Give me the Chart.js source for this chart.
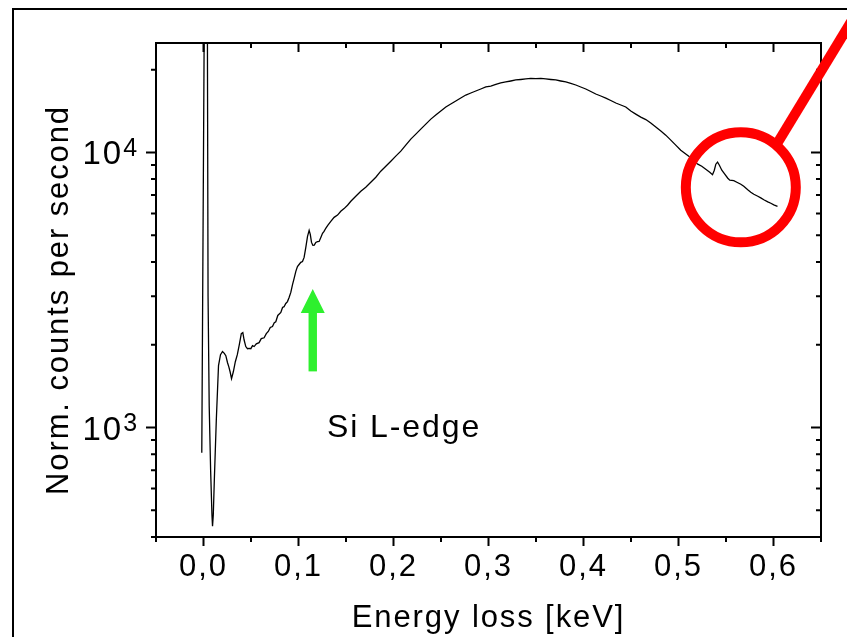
<!DOCTYPE html>
<html>
<head>
<meta charset="utf-8">
<title>Espectro EELS</title>
<script src="https://cdn.jsdelivr.net/npm/chart.js@4.4.1/dist/chart.umd.min.js"></script>
<style>
    html, body { margin: 0; padding: 0; background: #fff; }
    #espectro { display: block; }
</style>
</head>
<body>
<canvas id="espectro" width="847" height="637"></canvas>
<script>
// Pérdida de energía (keV) y cuentas normalizadas por segundo
const energia = [
    -0.0018, 0.0033, 0.0042, 0.0048, 0.0060, 0.0075, 0.0089, 0.0095, 0.0103, 0.0114,
    0.0135, 0.0158, 0.0179, 0.0200, 0.0219, 0.0235, 0.0253, 0.0266, 0.0280, 0.0295,
    0.0314, 0.0335, 0.0356, 0.0377, 0.0398, 0.0414, 0.0427, 0.0445, 0.0463, 0.0480,
    0.0498, 0.0516, 0.0533, 0.0556, 0.0585, 0.0608, 0.0638, 0.0661, 0.0682, 0.0703,
    0.0726, 0.0745, 0.0761, 0.0782, 0.0814, 0.0832, 0.0848, 0.0866, 0.0884, 0.0901,
    0.0919, 0.0937, 0.0954, 0.0972, 0.0989, 0.1006, 0.1024, 0.1042, 0.1059, 0.1077,
    0.1095, 0.1112, 0.1124, 0.1137, 0.1151, 0.1166, 0.1182, 0.1200, 0.1217, 0.1235,
    0.1253, 0.1269, 0.1287, 0.1308, 0.1340, 0.1375, 0.1411, 0.1445, 0.1480, 0.1516,
    0.1551, 0.1603, 0.1656, 0.1708, 0.1761, 0.1814, 0.1866, 0.1919, 0.1972, 0.2024,
    0.2077, 0.2129, 0.2182, 0.2235, 0.2287, 0.2340, 0.2393, 0.2445, 0.2498, 0.2551,
    0.2603, 0.2656, 0.2708, 0.2761, 0.2814, 0.2866, 0.2919, 0.2972, 0.3024, 0.3077,
    0.3129, 0.3182, 0.3235, 0.3287, 0.3340, 0.3393, 0.3445, 0.3498, 0.3551, 0.3603,
    0.3656, 0.3708, 0.3761, 0.3814, 0.3866, 0.3919, 0.3971, 0.4024, 0.4077, 0.4129,
    0.4182, 0.4235, 0.4287, 0.4340, 0.4393, 0.4445, 0.4498, 0.4550, 0.4603, 0.4656,
    0.4708, 0.4761, 0.4814, 0.4866, 0.4919, 0.4971, 0.5024, 0.5066, 0.5108, 0.5150,
    0.5203, 0.5245, 0.5287, 0.5329, 0.5358, 0.5377, 0.5393, 0.5411, 0.5429, 0.5456,
    0.5487, 0.5519, 0.5540, 0.5582, 0.5614, 0.5656, 0.5687, 0.5729, 0.5761, 0.5793,
    0.5835, 0.5866, 0.5898, 0.5940, 0.5972, 0.6003, 0.6042
];
const cuentas = [
    810, 1000000, 20100, 3000, 1200, 700, 481, 438, 481, 645,
    1070, 1680, 1840, 1890, 1860, 1825, 1720, 1665, 1595, 1505,
    1595, 1735, 1840, 2000, 2195, 2215, 2085, 1970, 1935, 1940,
    1935, 1985, 1970, 2015, 2035, 2105, 2120, 2195, 2235, 2310,
    2330, 2405, 2425, 2555, 2620, 2730, 2750, 2825, 2870, 2970,
    3100, 3310, 3485, 3695, 3850, 3915, 3985, 4015, 4155, 4520,
    4955, 5210, 5040, 4710, 4595, 4605, 4710, 4740, 4750, 4910,
    5080, 5165, 5300, 5435, 5615, 5810, 5920, 6110, 6250, 6430,
    6645, 6930, 7225, 7475, 7795, 8130, 8550, 8915, 9295, 9695,
    10110, 10630, 11180, 11660, 12160, 12680, 13220, 13680, 14140, 14630,
    15000, 15380, 15770, 16170, 16450, 16730, 17010, 17300, 17440, 17670,
    17890, 18040, 18190, 18350, 18420, 18500, 18580, 18560, 18590, 18500,
    18420, 18350, 18190, 18040, 17820, 17590, 17300, 17010, 16660, 16310,
    16040, 15770, 15450, 15130, 14880, 14630, 14140, 13790, 13450, 13170,
    12790, 12370, 11960, 11560, 11090, 10630, 10190, 9940, 9695, 9375,
    9065, 8915, 8695, 8480, 8300, 8620, 9065, 9220, 9005, 8620,
    8335, 8060, 7930, 7895, 7795, 7665, 7535, 7315, 7165, 7045,
    6930, 6840, 6730, 6615, 6535, 6450, 6370
];

// Marcas de los ejes
const xMayor = [0, 0.1, 0.2, 0.3, 0.4, 0.5, 0.6];
const xMenor = [-0.05, 0.05, 0.15, 0.25, 0.35, 0.45, 0.55, 0.65];
const yMayor = [1000, 10000];
const yExponente = ['3', '4'];
const yMenor = [400, 500, 600, 700, 800, 900, 2000, 3000, 4000, 5000, 6000, 7000, 8000, 9000, 20000];

// Anotaciones (en coordenadas de datos)
const flecha = { energia: 0.115, desde: 1600, hasta: 3190 };
const etiquetaSi = { texto: 'Si L-edge', energia: 0.13, cuentas: 925 };
const lupa = { energia: 0.5656, cuentas: 7470 };

const FUENTE = '"Liberation Sans", Arial, sans-serif';

document.addEventListener('DOMContentLoaded', () => {
    renderizarEspectro();
});

// Espaciado de letras para todos los textos del canvas
const espaciado = {
    id: 'espaciado',
    beforeDraw(chart) {
        chart.ctx.letterSpacing = '1.9px';
    }
};

// Recuadro, marcas de ejes, etiquetas del eje Y y anotaciones
const marco = {
    id: 'marco',
    afterDraw(chart) {
        const { ctx, chartArea: a, scales: { x, y } } = chart;
        ctx.save();
        ctx.strokeStyle = '#000';
        ctx.fillStyle = '#000';
        ctx.lineWidth = 2;
        ctx.strokeRect(a.left, a.top, a.right - a.left, a.bottom - a.top);

        // marcas: hacia fuera abajo/izquierda, hacia dentro arriba/derecha
        ctx.beginPath();
        const marcasX = (valores, largo) => valores.forEach(v => {
            const px = x.getPixelForValue(v);
            ctx.moveTo(px, a.bottom); ctx.lineTo(px, a.bottom + largo);
            ctx.moveTo(px, a.top); ctx.lineTo(px, a.top + largo);
        });
        const marcasY = (valores, largo) => valores.forEach(v => {
            const py = y.getPixelForValue(v);
            ctx.moveTo(a.left - largo, py); ctx.lineTo(a.left, py);
            ctx.moveTo(a.right - largo, py); ctx.lineTo(a.right, py);
        });
        marcasX(xMayor, 9);
        marcasX(xMenor, 5);
        marcasY(yMayor, 10);
        marcasY(yMenor, 5);
        ctx.stroke();

        // etiquetas 10^n
        ctx.textAlign = 'right';
        ctx.textBaseline = 'alphabetic';
        yMayor.forEach((v, i) => {
            const py = y.getPixelForValue(v);
            ctx.font = '33px ' + FUENTE;
            ctx.fillText('10', a.left - 33, py + 12);
            ctx.font = '25px ' + FUENTE;
            ctx.fillText(yExponente[i], a.left - 17, py + 3.5);
        });

        // título del eje Y
        ctx.save();
        ctx.translate(59, 300);
        ctx.rotate(-Math.PI / 2);
        ctx.textAlign = 'center';
        ctx.textBaseline = 'middle';
        ctx.font = '31px ' + FUENTE;
        ctx.fillText('Norm. counts per second', 0, 0);
        ctx.restore();

        // marco exterior
        ctx.beginPath();
        ctx.moveTo(13, chart.height + 10);
        ctx.lineTo(13, 9);
        ctx.lineTo(chart.width + 10, 9);
        ctx.stroke();

        // texto del borde Si
        ctx.textAlign = 'left';
        ctx.font = '32px ' + FUENTE;
        ctx.fillText(etiquetaSi.texto, x.getPixelForValue(etiquetaSi.energia), y.getPixelForValue(etiquetaSi.cuentas));

        // flecha verde
        const ax = x.getPixelForValue(flecha.energia);
        const yBase = y.getPixelForValue(flecha.desde);
        const yPunta = y.getPixelForValue(flecha.hasta);
        ctx.fillStyle = '#2ef02e';
        ctx.fillRect(ax - 4.2, yPunta + 23, 8.4, yBase - yPunta - 23);
        ctx.beginPath();
        ctx.moveTo(ax, yPunta);
        ctx.lineTo(ax + 12, yPunta + 24);
        ctx.lineTo(ax - 12, yPunta + 24);
        ctx.closePath();
        ctx.fill();

        // círculo rojo con su línea
        const cx = x.getPixelForValue(lupa.energia);
        const cy = y.getPixelForValue(lupa.cuentas);
        const r = 55;
        ctx.strokeStyle = '#ff0000';
        ctx.lineWidth = 10;
        ctx.beginPath();
        ctx.arc(cx, cy, r, 0, 2 * Math.PI);
        ctx.stroke();
        const ang = -50 * Math.PI / 180;
        const x0 = cx + r * Math.cos(ang), y0 = cy + r * Math.sin(ang);
        ctx.beginPath();
        ctx.moveTo(x0, y0);
        ctx.lineTo(x0 + 0.519 * 250, y0 - 0.855 * 250);
        ctx.stroke();
        ctx.restore();
    }
};

function renderizarEspectro() {
    const ctx = document.getElementById('espectro').getContext('2d');
    const puntos = energia.map((e, i) => ({ x: e, y: cuentas[i] }));

    new Chart(ctx, {
        type: 'line',
        data: {
            datasets: [{
                data: puntos,
                borderColor: '#000',
                borderWidth: 1.3,
                pointRadius: 0,
                tension: 0,
                fill: false
            }]
        },
        options: {
            responsive: false,
            animation: false,
            devicePixelRatio: 1,
            layout: { padding: { top: 43, right: 26, left: 0, bottom: 0 } },
            plugins: {
                legend: { display: false },
                tooltip: { enabled: false }
            },
            scales: {
                x: {
                    type: 'linear',
                    min: -0.05,
                    max: 0.65,
                    grid: { display: false, drawTicks: false },
                    border: { display: false },
                    afterBuildTicks: s => { s.ticks = xMayor.map(v => ({ value: v })); },
                    afterFit: s => { s.height = 100; },
                    ticks: {
                        autoSkip: false,
                        maxRotation: 0,
                        padding: 15,
                        color: '#000',
                        font: { family: FUENTE, size: 31, lineHeight: 1 },
                        callback: v => v.toFixed(1).replace('.', ',')
                    },
                    title: {
                        display: true,
                        text: 'Energy loss [keV]',
                        color: '#000',
                        font: { family: FUENTE, size: 31, lineHeight: 1 },
                        padding: { top: 0, bottom: 3 }
                    }
                },
                y: {
                    type: 'logarithmic',
                    min: 400,
                    max: 25000,
                    grid: { display: false, drawTicks: false },
                    border: { display: false },
                    ticks: { display: false },
                    afterFit: s => { s.width = 156; }
                }
            }
        },
        plugins: [espaciado, marco]
    });
}
</script>
</body>
</html>
